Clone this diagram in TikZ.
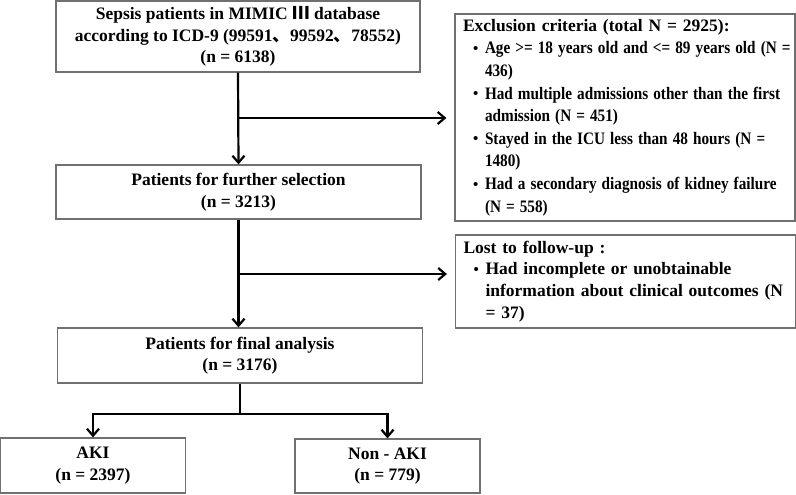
\documentclass[tikz,border=0pt]{standalone}
\usepackage{graphicx}
\usepackage{fontspec}
\setmainfont{Liberation Serif}
\newfontfamily\cjk{Noto Sans CJK SC}
\usetikzlibrary{arrows.meta, positioning, calc}
\definecolor{boxgray}{RGB}{112,112,112}
\tikzset{
  stage/.style={draw=boxgray, line width=1.2pt, align=center, inner sep=0pt,
    font=\bfseries\fontsize{17.5}{21.5}\selectfont},
  reason/.style={stage, align=left, text width=324pt, inner xsep=8pt,
    font=\bfseries\fontsize{17.5}{22.6}\selectfont},
  pto/.style={-{Straight Barb[length=7pt,width=12pt]}, line width=2.2pt, black}
}
\newcommand{\dotmark}{\makebox[22pt][l]{\hspace{10pt}\raisebox{0.5pt}{\fontsize{15}{15}\selectfont\textbullet}}}
\newcommand{\itm}[1]{\mbox{\dotmark#1}}
\newcommand{\cnt}[1]{\mbox{\hspace*{22pt}#1}}
\newcommand{\tightitm}[1]{\itm{\scalebox{0.87}[1]{#1}}}
\newcommand{\tightcnt}[1]{\cnt{\scalebox{0.87}[1]{#1}}}

\begin{document}
\begin{tikzpicture}[x=1pt, y=-1pt]
  \useasboundingbox (0,0) rectangle (796,495);

  % main stages
  \node[stage, minimum width=364pt, minimum height=71pt] (sepsis) at (238,36.5)
    {Sepsis patients in MIMIC {\cjk Ⅲ} database\\
     according to ICD-9 (99591{\cjk 、}99592{\cjk 、}78552)\\
     (n = 6138)};
  \node[stage, minimum width=365pt, minimum height=54pt] (further) at (238.5,192)
    {Patients for further selection\\ (n = 3213)};
  \node[stage, minimum width=365pt, minimum height=55pt] (final) at (240,355.5)
    {Patients for final analysis\\ (n = 3176)};
  \node[stage, minimum width=185pt, minimum height=55pt] (aki) at (93,465.5)
    {AKI\\ (n = 2397)};
  \node[stage, minimum width=185pt, minimum height=54pt] (nonaki) at (387.5,466)
    {Non - AKI\\ (n = 779)};

  % side boxes
  \node[reason, minimum width=340pt, minimum height=207pt] (excl) at (625,117.5)
    {Exclusion criteria (total N = 2925):\\
     \tightitm{Age >= 18 years old and <= 89 years old (N =}\\
     \tightcnt{436)}\\
     \tightitm{Had multiple admissions other than the first}\\
     \tightcnt{admission (N = 451)}\\
     \tightitm{Stayed in the ICU less than 48 hours (N =}\\
     \tightcnt{1480)}\\
     \tightitm{Had a secondary diagnosis of kidney failure}\\
     \tightcnt{(N = 558)}};
  \node[reason, minimum width=339pt, minimum height=93pt,
    font=\bfseries\fontsize{17.5}{21.7}\selectfont] (lost) at (625.5,281.5)
    {Lost to follow-up :\\
     \itm{Had incomplete or unobtainable}\\
     \cnt{information about clinical outcomes (N}\\
     \cnt{= 37)}};

  % connectors
  \coordinate (b1) at (sepsis.south |- 0,118);
  \coordinate (b2) at (further.south |- 0,274);
  \draw[pto] (sepsis.south) -- (further.north);
  \draw[pto, shorten >=8pt] (b1) -- (b1 -| excl.west);
  \draw[pto] (further.south) -- (further.south |- final.north);
  \draw[pto, shorten >=8pt] (b2) -- (b2 -| lost.west);
  \draw[pto] (final.south) -- ++(0,30) -| (aki.north);
  \draw[pto] (final.south) -- ++(0,30) -| (nonaki.north);
\end{tikzpicture}
\end{document}
